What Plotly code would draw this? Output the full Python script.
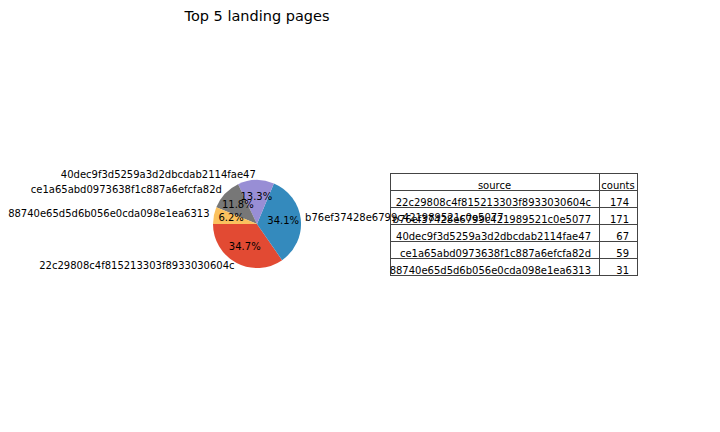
import math
import plotly.graph_objects as go

sources = [
    "22c29808c4f815213303f8933030604c",
    "b76ef37428e6799c421989521c0e5077",
    "40dec9f3d5259a3d2dbcdab2114fae47",
    "ce1a65abd0973638f1c887a6efcfa82d",
    "88740e65d5d6b056e0cda098e1ea6313",
]
counts = [174, 171, 67, 59, 31]
colors = ["#E24A33", "#348ABD", "#988ED5", "#777777", "#FBC15E"]
title = "Top 5 landing pages"

FONT = "DejaVu Sans"
R_MAX = 1.2                      # radial axis extent; wedges have radius 1
PIE_CX, PIE_CY, PIE_R = 257, 224, 44   # layout of the pie area in pixels
half = PIE_R * R_MAX
polar_domain = dict(
    x=[(PIE_CX - half) / 720, (PIE_CX + half) / 720],
    y=[(432 - PIE_CY - half) / 432, (432 - PIE_CY + half) / 432],
)

# wedge geometry derived from the data (degrees, counter-clockwise from 9 o'clock)
total = sum(counts)
widths = [360 * c / total for c in counts]
mids = []
acc = 0.0
for w in widths:
    mids.append(acc + w / 2)
    acc += w
pct_text = [f"{100 * c / total:.1f}%" for c in counts]
label_pos = ["middle right" if math.cos(math.radians(180 + m)) > 0 else "middle left"
             for m in mids]

fig = go.Figure()
fig.add_trace(go.Barpolar(
    r=[1] * len(counts), theta=mids, width=widths,
    marker=dict(color=colors, line=dict(width=0)),
    showlegend=False, hoverinfo="skip",
))
fig.add_trace(go.Scatterpolar(
    r=[0.6] * len(counts), theta=mids, mode="text", text=pct_text,
    textposition="middle center", cliponaxis=False,
    textfont=dict(family=FONT, size=10, color="black"),
    showlegend=False, hoverinfo="skip",
))
fig.add_trace(go.Scatterpolar(
    r=[1.1] * len(counts), theta=mids, mode="text", text=sources,
    textposition=label_pos, cliponaxis=False,
    textfont=dict(family=FONT, size=10, color="black"),
    showlegend=False, hoverinfo="skip",
))

fig.add_trace(go.Table(
    domain=dict(x=[390 / 720, 637 / 720], y=[0.2, 258.5 / 432]),
    columnwidth=[209, 38],
    header=dict(values=["source", "counts"], align="center",
                line=dict(color="#444", width=1), fill=dict(color="rgba(0,0,0,0)"),
                font=dict(family=FONT, size=10, color="black"), height=17),
    cells=dict(values=[sources, counts], align="right",
               line=dict(color="#444", width=1), fill=dict(color="rgba(0,0,0,0)"),
               font=dict(family=FONT, size=10, color="black"), height=17),
))

fig.update_layout(
    width=720, height=432,
    margin=dict(l=0, r=0, t=0, b=0),
    paper_bgcolor="white", plot_bgcolor="white",
    font=dict(family=FONT, size=10, color="black"),
    polar=dict(
        domain=polar_domain, bgcolor="rgba(0,0,0,0)", bargap=0, hole=0,
        radialaxis=dict(visible=False, range=[0, R_MAX]),
        angularaxis=dict(visible=False, rotation=180, direction="counterclockwise"),
    ),
    title=dict(text=title, x=257 / 720, xanchor="center", xref="paper",
               y=1 - 11 / 432, yanchor="top", yref="paper",
               font=dict(family=FONT, size=14.5, color="black")),
)

fig.write_html("out.html")
